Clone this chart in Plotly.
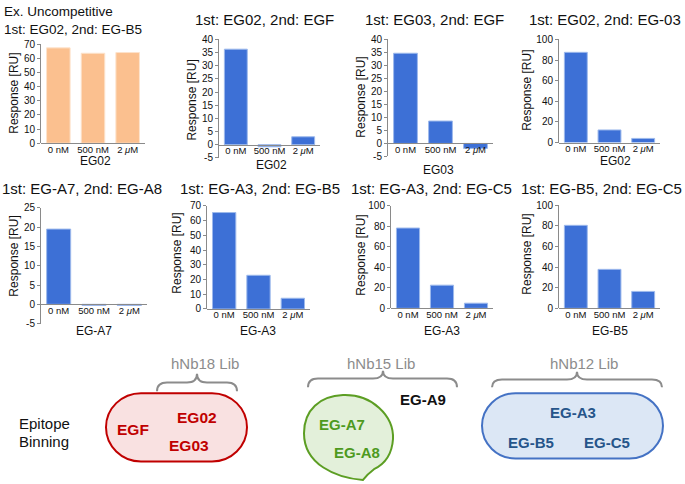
import plotly.graph_objects as go

# ---------------- data ----------------
categories = ["0 nM", "500 nM", "2 <i>μ</i>M"]

titles = [
    "1st: EG02, 2nd: EG-B5",
    "1st: EG02, 2nd: EGF",
    "1st: EG03, 2nd: EGF",
    "1st: EG02, 2nd: EG-03",
    "1st: EG-A7, 2nd: EG-A8",
    "1st: EG-A3, 2nd: EG-B5",
    "1st: EG-A3, 2nd: EG-C5",
    "1st: EG-B5, 2nd: EG-C5",
]
x_titles = ["EG02", "EG02", "EG03", "EG02", "EG-A7", "EG-A3", "EG-A3", "EG-B5"]

eg02_egb5 = [67.3, 63.5, 64.0]
eg02_egf = [36.3, -0.8, 3.0]
eg03_egf = [34.6, 8.6, -1.9]
eg02_eg03 = [87.5, 12.2, 4.0]
ega7_ega8 = [19.5, -0.3, -0.3]
ega3_egb5 = [65.5, 22.9, 7.3]
ega3_egc5 = [78.4, 22.6, 5.0]
egb5_egc5 = [80.5, 37.8, 16.4]
series = [eg02_egb5, eg02_egf, eg03_egf, eg02_eg03,
          ega7_ega8, ega3_egb5, ega3_egc5, egb5_egc5]

y_ranges = [(0, 70), (-5, 40), (-5, 40), (0, 100),
            (-5, 25), (0, 70), (0, 100), (0, 100)]
y_steps = [10, 5, 5, 20, 5, 10, 20, 20]

# ---------------- layout (pixels) ----------------
W, H = 685, 484


def px(x):
    return x / W


def py(y):
    return 1 - y / H


def pt(x, y):
    return f"{px(x):.5f},{py(y):.5f}"


# plot boxes: x_left, x_right, y_top(max), y_bottom(min)
boxes = [
    (41, 145, 39.0, 140.7),
    (219, 320, 34.3, 155.7),
    (388, 493, 34.0, 154.3),
    (559, 660, 34.3, 140.0),
    (41, 147, 207.0, 325.7),
    (207, 310, 205.0, 310.7),
    (391, 493, 205.0, 310.0),
    (559, 660, 204.3, 310.0),
]
title_pos = [None, (264, 14), (434, 14), (605, 14),
             (82, 187), (260, 187), (431, 187), (601, 187)]
xtitle_pos = [(95, 159), (271, 163), (438, 168), (615, 159),
              (94, 333), (258, 333), (442, 333), (610, 333)]
ytitle_pos = [(14, 90), (192, 97), (361, 93), (527, 87),
              (14, 257), (177, 254), (361, 255), (527, 255)]

BLUE = "#3D70D6"
ORANGE = "#FBC08F"
AX = "#8a8a8a"
FONT = "Liberation Sans, Arial, sans-serif"

fig = go.Figure()
annotations = []
shapes = []

for i, vals in enumerate(series):
    n = i + 1
    xl, xr, yt, yb = boxes[i]
    ymin, ymax = y_ranges[i]
    color = ORANGE if i == 0 else BLUE
    line_c = "#FDE3CC" if i == 0 else "#9DB9EC"
    fig.add_trace(go.Bar(
        x=categories, y=vals, width=0.68,
        marker=dict(color=color, line=dict(color=line_c, width=1)),
        xaxis=f"x{n}", yaxis=f"y{n}", showlegend=False, hoverinfo="y",
    ))
    y0_px = yt + (ymax - 0) / (ymax - ymin) * (yb - yt)
    tv = list(range(ymin, ymax + 1, y_steps[i]))
    fig.update_layout(**{
        f"xaxis{n}": dict(
            domain=[px(xl), px(xr)], anchor="free", position=py(y0_px),
            type="category", range=[-0.5, 2.5], showline=True, linecolor=AX,
            linewidth=1, ticks="", showgrid=False, zeroline=False,
            ticklabelstandoff=-3,
            tickfont=dict(size=9.5, color="#111", family=FONT),
        ),
        f"yaxis{n}": dict(
            domain=[py(yb), py(yt)], anchor=f"x{n}", range=[ymin, ymax],
            tickvals=tv, ticktext=[str(v) for v in tv], showline=True,
            linecolor=AX, linewidth=1, ticks="outside", ticklen=3,
            tickcolor=AX, showgrid=False, zeroline=False,
            tickfont=dict(size=10, color="#111", family=FONT),
        ),
    })
    if title_pos[i] is not None:
        annotations.append(dict(text=titles[i], x=px(title_pos[i][0]), y=py(title_pos[i][1]),
                                xref="paper", yref="paper", showarrow=False,
                                xanchor="center", yanchor="middle",
                                font=dict(size=15, color="#111", family=FONT)))
    annotations.append(dict(text=x_titles[i], x=px(xtitle_pos[i][0]), y=py(xtitle_pos[i][1]),
                            xref="paper", yref="paper", showarrow=False,
                            xanchor="center", yanchor="middle",
                            font=dict(size=12, color="#111", family=FONT)))
    annotations.append(dict(text="Response [RU]", x=px(ytitle_pos[i][0]), y=py(ytitle_pos[i][1]),
                            xref="paper", yref="paper", showarrow=False, textangle=-90,
                            xanchor="center", yanchor="middle",
                            font=dict(size=12, color="#111", family=FONT)))

# first panel header (two lines)
annotations.append(dict(text="Ex. Uncompetitive<br>" + titles[0], x=px(3), y=py(15),
                        xref="paper", yref="paper", align="left",
                        showarrow=False, xanchor="left", yanchor="middle", borderpad=0,
                        font=dict(size=13.5, color="#111", family=FONT)))

# ---------------- epitope binning diagram ----------------


def stadium(x0, y0, x1, y1):
    r = (y1 - y0) / 2
    k = 0.5523 * r
    cy = (y0 + y1) / 2
    lx, rx = x0 + r, x1 - r
    return (f"M {pt(lx, y0)} L {pt(rx, y0)} "
            f"C {pt(rx + k, y0)} {pt(x1, cy - k)} {pt(x1, cy)} "
            f"C {pt(x1, cy + k)} {pt(rx + k, y1)} {pt(rx, y1)} "
            f"L {pt(lx, y1)} "
            f"C {pt(lx - k, y1)} {pt(x0, cy + k)} {pt(x0, cy)} "
            f"C {pt(x0, cy - k)} {pt(lx - k, y0)} {pt(lx, y0)} Z")


def brace(x0, x1, xm, ye, yh, yp):
    return (f"M {pt(x0, ye)} Q {pt(x0, yh)} {pt(x0 + 10, yh)} "
            f"L {pt(xm - 10, yh)} Q {pt(xm, yh)} {pt(xm, yp)} "
            f"Q {pt(xm, yh)} {pt(xm + 10, yh)} "
            f"L {pt(x1 - 10, yh)} Q {pt(x1, yh)} {pt(x1, ye)}")


GRAY = "#8c8c8c"
shapes.append(dict(type="path", xref="paper", yref="paper", path=brace(157, 237, 197, 395, 386, 377),
                   line=dict(color=GRAY, width=2)))
shapes.append(dict(type="path", xref="paper", yref="paper", path=brace(308, 457, 383, 391, 382, 374),
                   line=dict(color=GRAY, width=2)))
shapes.append(dict(type="path", xref="paper", yref="paper", path=brace(492, 662, 577, 391, 383, 375),
                   line=dict(color=GRAY, width=2)))

shapes.append(dict(type="path", xref="paper", yref="paper", path=stadium(106, 397, 247, 467),
                   fillcolor="#F9E1E1", line=dict(color="#C00000", width=2)))
shapes.append(dict(type="path", xref="paper", yref="paper", path=stadium(482, 397, 663, 464),
                   fillcolor="#DCE7F5", line=dict(color="#4472C4", width=2)))

green_path = (f"M {pt(343, 399)} C {pt(372, 398)} {pt(394, 420)} {pt(393, 444)} "
              f"C {pt(392, 460)} {pt(384, 470)} {pt(374, 475)} "
              f"C {pt(370, 478)} {pt(366, 482)} {pt(363, 486)} "
              f"C {pt(336, 484)} {pt(304, 470)} {pt(304, 438)} "
              f"C {pt(304, 414)} {pt(320, 400)} {pt(343, 399)} Z")
shapes.append(dict(type="path", xref="paper", yref="paper", path=green_path,
                   fillcolor="#E3F0DA", line=dict(color="#5C9E23", width=2)))


def label(text, x, y, color, size=15, bold=True, anchor="center"):
    annotations.append(dict(text=f"<b>{text}</b>" if bold else text, x=px(x), y=py(y),
                            xref="paper", yref="paper", showarrow=False,
                            xanchor=anchor, yanchor="middle",
                            font=dict(size=size, color=color, family=FONT)))


label("hNb18 Lib", 205, 367, GRAY, bold=False)
label("hNb15 Lib", 381, 367, GRAY, bold=False)
label("hNb12 Lib", 584, 367, GRAY, bold=False)
label("Epitope", 17, 428, "#111", bold=False, anchor="left")
label("Binning", 17, 447, "#111", bold=False, anchor="left")

RED = "#C00000"
label("EGF", 133, 434, RED, 15.5)
label("EG02", 197, 422, RED, 15.5)
label("EG03", 189, 451, RED, 15.5)

GREEN = "#4E9A1E"
label("EG-A7", 342, 429, GREEN, 15)
label("EG-A8", 357, 458, GREEN, 15)
label("EG-A9", 423, 403, "#111", 15)

DBLUE = "#26558A"
label("EG-A3", 573, 417, DBLUE, 15)
label("EG-B5", 531, 448, DBLUE, 15)
label("EG-C5", 607, 448, DBLUE, 15)

fig.update_layout(
    width=W, height=H, margin=dict(l=0, r=0, t=0, b=0),
    paper_bgcolor="white", plot_bgcolor="white",
    annotations=annotations, shapes=shapes,
    font=dict(family=FONT), showlegend=False,
)

fig.write_html("out.html", config={"displayModeBar": False},
               post_script="document.body.style.margin='0';")
